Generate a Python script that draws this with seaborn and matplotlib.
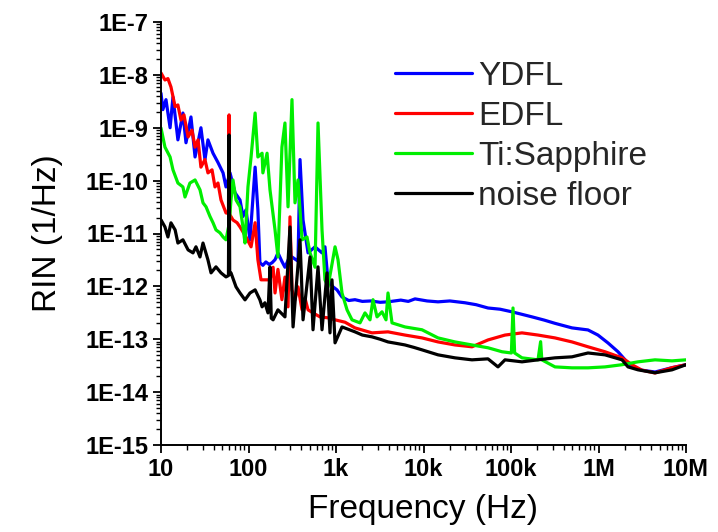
import matplotlib
matplotlib.use("Agg")
import matplotlib.pyplot as plt
import pandas as pd
import seaborn as sns
from matplotlib.ticker import FixedLocator, FixedFormatter, NullFormatter, LogLocator

# ---------------- data (frequency in Hz, RIN in 1/Hz) ----------------
ydfl = [(10, 4.5e-9), (10.5, 2.2e-9), (11.4, 3.4e-9), (12.7, 1.0e-9), (13.7, 3.8e-9),
        (15.6, 5.9e-10), (17.8, 1.9e-9), (19.3, 5.2e-10), (22.0, 1.6e-9), (24.5, 2.8e-10),
        (28.6, 1.0e-9), (31.8, 2.5e-10), (34.4, 5.9e-10), (39.3, 3.3e-10), (44.8, 2.2e-10),
        (51.2, 1.4e-10), (55.3, 7.6e-11), (61.5, 1.4e-10), (70.1, 5.9e-11), (80, 4.3e-11),
        (86.5, 2.1e-11), (93.6, 2.8e-11), (104, 7.6e-12), (119, 1.8e-10), (128, 2.8e-11),
        (135, 2.8e-12), (146, 2.5e-12), (158, 2.9e-12), (172, 2.6e-12), (186, 2.8e-12),
        (201, 3.2e-12), (217, 4.3e-12), (240, 3.0e-12), (261, 2.3e-12), (285, 3.2e-12),
        (314, 3.6e-12), (368, 3.0e-12), (388, 2.5e-10), (420, 1.8e-11),
        (479, 4.3e-12), (576, 5.6e-12), (692, 4.3e-12), (748, 5.6e-12), (810, 1.3e-12),
        (924, 9.8e-13), (1026, 8.6e-13), (1171, 6.3e-13), (1400, 5.4e-13), (1648, 5.6e-13),
        (2000, 5.2e-13), (2500, 5.3e-13), (3200, 5.0e-13), (3929, 5.1e-13), (5500, 5.5e-13),
        (6700, 5.2e-13), (8000, 5.8e-13), (11000, 5.3e-13), (14660, 5.1e-13), (20000, 5.3e-13),
        (29790, 4.9e-13), (40000, 4.5e-13), (54580, 3.9e-13), (75000, 3.7e-13),
        (102700, 3.3e-13), (173800, 2.65e-13), (240000, 2.3e-13),
        (318200, 2.0e-13), (497800, 1.64e-13), (758600, 1.5e-13), (986000, 1.2e-13),
        (1285000, 8.5e-14), (1671000, 5.8e-14), (2010000, 4.1e-14), (2414000, 3.0e-14),
        (3140000, 2.6e-14), (4424000, 2.4e-14), (6923000, 2.9e-14), (1e7, 3.3e-14)]

edfl = [(10, 1.09e-8), (11.1, 8e-9), (12, 8.5e-9), (13, 5.9e-9), (14.5, 2.5e-9),
        (15.6, 2.7e-9), (16.9, 1.4e-9), (18.3, 1.75e-9), (20.4, 6.7e-10), (22.6, 9e-10),
        (24.5, 4.3e-10), (26.5, 5.9e-10), (28.6, 1.8e-10), (31.8, 2.5e-10), (34.4, 1.4e-10),
        (38.3, 1.6e-10), (41.4, 7.6e-11), (44.8, 9e-11), (48.5, 4.3e-11), (55.3, 2.45e-11),
        (59, 2.4e-11), (60, 1.75e-9), (61, 2.3e-11), (66.5, 1.8e-11), (74, 1.6e-11),
        (80, 1.33e-11), (93.6, 8.6e-12), (107, 5.6e-12), (119, 1.6e-11), (128, 3.2e-12),
        (139, 1.33e-12), (154, 1.33e-12), (176, 1.33e-12), (191, 2.3e-12), (201, 7.5e-13),
        (217, 2.1e-12), (241, 5.6e-13), (261, 1.5e-12), (283, 4.1e-13), (298, 2.06e-11),
        (314, 8.6e-13), (340, 5.6e-13), (368, 9.8e-13), (409, 3.6e-13), (442, 6e-13),
        (479, 3.6e-13), (546, 3.15e-13), (656, 2.65e-13), (810, 2.54e-13), (975, 2.33e-13),
        (1268, 2.1e-13), (1648, 1.64e-13), (2577, 1.32e-13), (3929, 1.38e-13),
        (6146, 1.2e-13), (9620, 1.06e-13), (14660, 8.9e-14), (22910, 7.8e-14),
        (35820, 7.2e-14), (54580, 9.7e-14), (85400, 1.2e-13), (133600, 1.32e-13),
        (203500, 1.2e-13), (318200, 1.06e-13), (497800, 8.9e-14), (758600, 7.2e-14),
        (1186000, 5.8e-14), (1857000, 4.45e-14), (2414000, 3.3e-14), (3140000, 2.6e-14),
        (4424000, 2.3e-14), (6923000, 2.9e-14), (1e7, 3.3e-14)]

tisapphire = [(10, 9.9e-10), (11.1, 4.3e-10), (12.7, 2.8e-10), (13.7, 1.6e-10), (15.6, 9e-11),
              (17.8, 7.6e-11), (18.8, 4.9e-11), (21.4, 9e-11), (24.5, 1.03e-10), (27.9, 6.7e-11),
              (30.2, 3.8e-11), (32.7, 3.2e-11), (36.3, 2.1e-11), (39.3, 1.6e-11), (42.5, 1.17e-11),
              (47.2, 1.03e-11), (51.2, 8.6e-12), (55.3, 7.6e-12), (60, 1.5e-11), (63.1, 4.3e-11),
              (66.5, 1.03e-10), (72, 4.3e-11), (80, 3.2e-11), (86.5, 1.33e-11), (91.2, 6.6e-12),
              (98.6, 7.6e-11), (107, 2.8e-10), (119, 1.9e-9), (128, 2.8e-10), (143, 3.3e-10),
              (146, 1.4e-10), (163, 3.3e-10), (176, 6.7e-11), (201, 1.17e-11), (217, 3.6e-12),
              (241, 4.3e-10), (261, 1.23e-9), (283, 3.2e-11), (314, 3.4e-9), (340, 3.8e-11),
              (368, 1.03e-10), (409, 7.6e-12), (466, 8.6e-12), (505, 4.3e-12), (576, 2.3e-12),
              (623, 1.23e-9), (692, 1.17e-11), (748, 1.33e-12), (810, 9.8e-13), (975, 5.6e-12),
              (1054, 3.2e-12), (1171, 7.5e-13), (1337, 3.6e-13), (1524, 2.33e-13), (1880, 2.04e-13),
              (2144, 3.15e-13), (2446, 2.33e-13), (2648, 5.6e-13), (2943, 2.65e-13), (3356, 3.3e-13),
              (3728, 2.33e-13), (3929, 7.5e-13), (4366, 2.04e-13), (6146, 1.71e-13), (9620, 1.51e-13),
              (14660, 1.06e-13), (22910, 8.9e-14), (35820, 7.8e-14), (54580, 6.9e-14),
              (78900, 5.8e-14), (101000, 5.5e-14), (105400, 3.9e-13), (110000, 5.5e-14),
              (133600, 4.45e-14), (203500, 4.08e-14), (218000, 9e-14), (225000, 4.08e-14),
              (318200, 3.0e-14), (497800, 2.88e-14), (758600, 2.88e-14), (1186000, 3.0e-14),
              (1857000, 3.3e-14), (2827000, 3.74e-14), (4424000, 4.08e-14), (6923000, 3.9e-14),
              (1e7, 4.08e-14)]

noise_floor = [(10, 1.81e-11), (11.1, 1.33e-11), (12, 8.6e-12), (13, 1.59e-11), (14.5, 1.17e-11),
               (15.6, 6.6e-12), (17.8, 7.6e-12), (20.4, 4.9e-12), (23.2, 4.3e-12), (25.1, 5.6e-12),
               (27.9, 3.6e-12), (30.2, 6.6e-12), (34.4, 3.17e-12), (37.3, 1.8e-12), (42.5, 2.34e-12),
               (48.5, 1.8e-12), (55.3, 1.51e-12), (59, 1.6e-12), (60, 7.3e-10), (61, 1.7e-12),
               (63.1, 1.8e-12), (72, 9.8e-13), (80, 7.5e-13), (91.2, 5.56e-13), (104, 7.5e-13),
               (119, 8.6e-13), (135, 5.56e-13), (143, 4.1e-13), (154, 4.9e-13), (167, 3.15e-13),
               (176, 2.34e-12), (182, 2.5e-13), (191, 2.33e-13), (217, 3.6e-13), (261, 2.65e-13),
               (298, 1.33e-11), (323, 1.71e-13), (388, 7.6e-12), (420, 2.33e-13), (505, 3.6e-12),
               (546, 1.51e-13), (623, 2.34e-12), (692, 1.51e-13), (789, 1.8e-12), (854, 1.32e-13),
               (900, 1.33e-12), (975, 8.55e-14), (1171, 1.71e-13), (1648, 1.38e-13),
               (2000, 1.2e-13), (2577, 1.11e-13), (3200, 1.0e-13), (3929, 8.9e-14),
               (5000, 8.3e-14), (6146, 7.8e-14), (7800, 7.0e-14), (9620, 6.3e-14),
               (14660, 5.07e-14), (22910, 4.45e-14), (35820, 4.08e-14), (54580, 4.26e-14),
               (71000, 3.0e-14), (85400, 4.08e-14), (133600, 3.74e-14), (203500, 4.08e-14),
               (318200, 4.45e-14), (497800, 4.65e-14), (758600, 5.5e-14), (1186000, 5.07e-14),
               (1857000, 4.08e-14), (2174000, 3.0e-14), (2827000, 2.64e-14), (4424000, 2.32e-14),
               (6923000, 2.64e-14), (1e7, 3.3e-14)]

series_names = ["YDFL", "EDFL", "Ti:Sapphire", "noise floor"]
series_colors = ["#0000ff", "#ff0000", "#00ee00", "#000000"]

x_ticks = [10, 100, 1e3, 1e4, 1e5, 1e6, 1e7]
x_tick_labels = ["10", "100", "1k", "10k", "100k", "1M", "10M"]
y_ticks = [1e-15, 1e-14, 1e-13, 1e-12, 1e-11, 1e-10, 1e-9, 1e-8, 1e-7]
y_tick_labels = ["1E-15", "1E-14", "1E-13", "1E-12", "1E-11", "1E-10", "1E-9", "1E-8", "1E-7"]

# ---------------- build long-form table ----------------
frames = []
for name, pts in zip(series_names, [ydfl, edfl, tisapphire, noise_floor]):
    f, v = zip(*pts)
    frames.append(pd.DataFrame({"Frequency": f, "RIN": v, "series": name}))
df = pd.concat(frames, ignore_index=True)

sns.set_theme(style="ticks")
plt.rcParams["font.family"] = ["Liberation Sans", "DejaVu Sans"]

W, H = 718, 532
fig = plt.figure(figsize=(W / 100, H / 100), dpi=100)
ax = fig.add_axes([161 / W, 1 - 445 / H, (686 - 161) / W, (445 - 22) / H])
ax.set_xscale("log")
ax.set_yscale("log")

sns.lineplot(data=df, x="Frequency", y="RIN", hue="series", hue_order=series_names,
             palette=dict(zip(series_names, series_colors)), sort=False, estimator=None,
             linewidth=2.3, ax=ax)

ax.set_xlim(10, 1e7)
ax.set_ylim(1e-15, 1e-7)
sns.despine(ax=ax)
for s in ["left", "bottom"]:
    ax.spines[s].set_linewidth(1.4)
    ax.spines[s].set_color("black")

ax.xaxis.set_major_locator(FixedLocator(x_ticks))
ax.xaxis.set_major_formatter(FixedFormatter(x_tick_labels))
ax.yaxis.set_major_locator(FixedLocator(y_ticks))
ax.yaxis.set_major_formatter(FixedFormatter(y_tick_labels))
ax.xaxis.set_minor_locator(LogLocator(base=10, subs=range(2, 10), numticks=20))
ax.yaxis.set_minor_locator(LogLocator(base=10, subs=range(2, 10), numticks=20))
ax.xaxis.set_minor_formatter(NullFormatter())
ax.yaxis.set_minor_formatter(NullFormatter())
ax.tick_params(which="major", direction="out", length=6, width=1.3, colors="black",
               labelsize=17, pad=3)
ax.tick_params(which="minor", direction="out", length=3.5, width=1.0, colors="black")
for lab in ax.get_xticklabels() + ax.get_yticklabels():
    lab.set_fontweight("bold")

ax.set_xlabel("Frequency (Hz)", fontsize=24, labelpad=10, color="black")
ax.set_ylabel("RIN (1/Hz)", fontsize=24, labelpad=16, color="black")

handles, labels = ax.get_legend_handles_labels()
for h in handles:
    h.set_linewidth(2.3)
ax.legend(handles, labels, loc="upper left", bbox_to_anchor=(395 / W, 1 - 61 / H),
          bbox_transform=fig.transFigure, frameon=False, fontsize=24,
          handlelength=2.3, handletextpad=0.2, labelspacing=0.27,
          borderpad=0, borderaxespad=0)

fig.savefig("out.png", dpi=100)
